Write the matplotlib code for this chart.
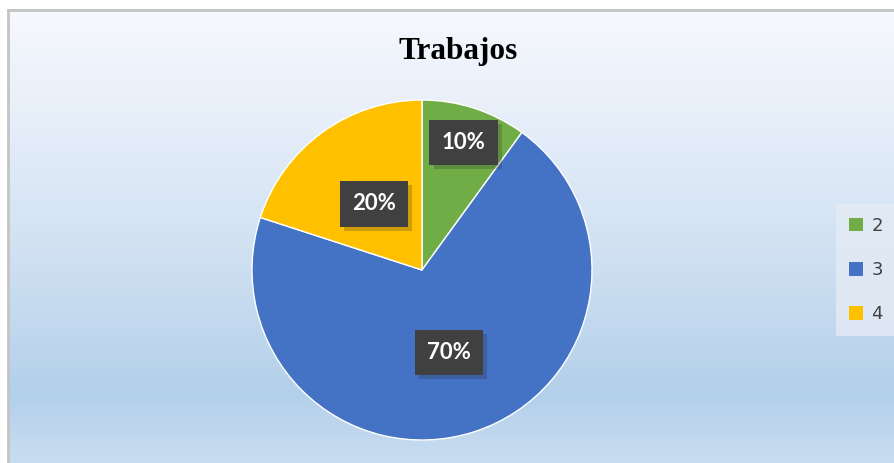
import numpy as np
import matplotlib
matplotlib.use("Agg")
import matplotlib.pyplot as plt
from matplotlib.colors import LinearSegmentedColormap
import matplotlib.patheffects as pe

# data
categories = ["2", "3", "4"]
shares = [10, 70, 20]
colors = ["#70ad47", "#4472c4", "#ffc000"]
title = "Trabajos"

W, H = 894, 463
fig = plt.figure(figsize=(W / 100, H / 100), dpi=100)
fig.patch.set_facecolor("white")

# chart area background with vertical gradient
bg = fig.add_axes([8 / W, 0, 1 - 8 / W, (H - 10) / H])
grad = LinearSegmentedColormap.from_list(
    "bg", [(0, "#f6f9fd"), (0.25, "#e6eef9"), (0.55, "#cfe0f2"),
           (0.85, "#b3d0ea"), (1, "#c9ddf1")])
bg.imshow(np.linspace(0, 1, 256).reshape(-1, 1), aspect="auto", cmap=grad,
          extent=[0, 1, 0, 1], origin="upper")
bg.set_xticks([])
bg.set_yticks([])
for side in ["right", "bottom"]:
    bg.spines[side].set_visible(False)
for side in ["left", "top"]:
    bg.spines[side].set_color("#c4c4c4")
    bg.spines[side].set_linewidth(2)

fig.text(458 / W, 1 - 51 / H, title, ha="center", va="center",
         fontsize=22.5, fontweight="bold", family="Liberation Serif", color="black")

ax = fig.add_axes([252 / W, 23 / H, 340 / W, 340 / H])
wedges, _ = ax.pie(shares, colors=colors, startangle=90, counterclock=False,
                   radius=1, wedgeprops=dict(edgecolor="white", linewidth=1.0))
ax.set_xlim(-1, 1)
ax.set_ylim(-1, 1)
ax.set_aspect("equal")
ax.axis("off")

label_dist = [0.79, 0.51, 0.48]
for w, v, d in zip(wedges, shares, label_dist):
    ang = np.deg2rad((w.theta1 + w.theta2) / 2)
    t = ax.text(d * np.cos(ang), d * np.sin(ang), f"{v}%", ha="center", va="center",
                fontsize=16, fontweight="bold", family="Lato", color="white",
                bbox=dict(boxstyle="square,pad=0.55", facecolor="#404040",
                          edgecolor="none"))
    t.get_bbox_patch().set_path_effects(
        [pe.SimplePatchShadow(offset=(3, -3), shadow_rgbFace="#202020", alpha=0.22),
         pe.Normal()])

leg = fig.legend(wedges, categories, loc="center left",
                 bbox_to_anchor=(836 / W, 1 - 270 / H), frameon=True,
                 fontsize=13, handlelength=0.8, handleheight=0.8,
                 labelspacing=1.45, borderpad=0.7, handletextpad=0.45,
                 borderaxespad=0, fancybox=False)
leg.get_frame().set_facecolor("#e4ecf5")
leg.get_frame().set_edgecolor("none")
leg.get_frame().set_alpha(0.8)
for txt in leg.get_texts():
    txt.set_color("#404040")
for h in leg.legend_handles:
    h.set_edgecolor("none")

fig.savefig("out.png", dpi=100)
